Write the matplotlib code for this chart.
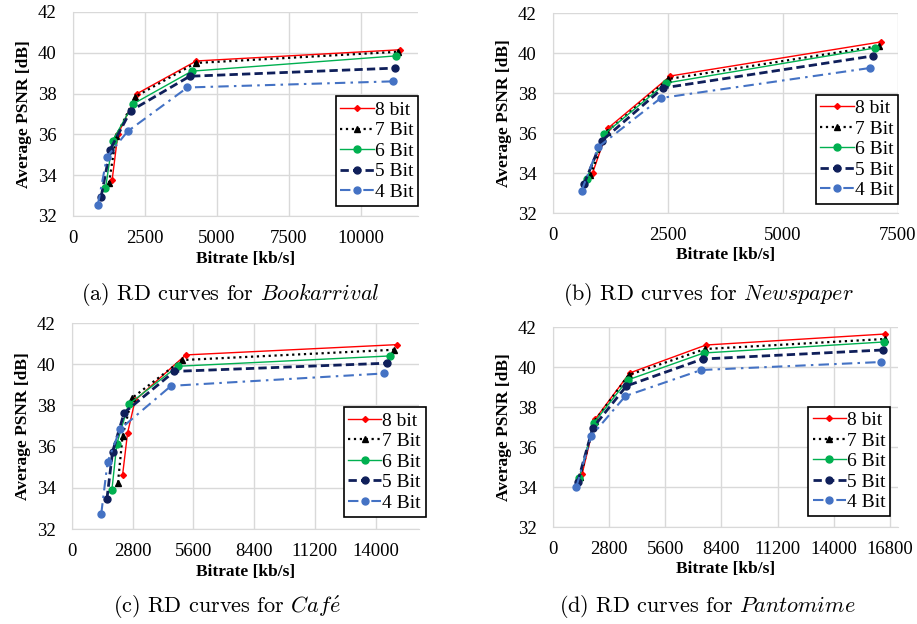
import matplotlib
matplotlib.use("Agg")
import matplotlib.pyplot as plt

plt.rcParams['font.family'] = ['Liberation Serif', 'DejaVu Serif']
plt.rcParams['mathtext.fontset'] = 'cm'

series_names = ["8 bit", "7 Bit", "6 Bit", "5 Bit", "4 Bit"]

# (a) Bookarrival
book_rate_8 = [1360, 1560, 2230, 4290, 11390]
book_psnr_8 = [33.75, 36.0, 38.0, 39.6, 40.15]
book_rate_7 = [1250, 1500, 2170, 4270, 11310]
book_psnr_7 = [33.6, 35.9, 37.85, 39.5, 40.05]
book_rate_6 = [1130, 1380, 2100, 4130, 11250]
book_psnr_6 = [33.35, 35.7, 37.5, 39.1, 39.85]
book_rate_5 = [980, 1290, 2000, 4060, 11210]
book_psnr_5 = [32.95, 35.25, 37.15, 38.85, 39.25]
book_rate_4 = [865, 1180, 1900, 3980, 11130]
book_psnr_4 = [32.55, 34.9, 36.15, 38.3, 38.6]

# (b) Newspaper
news_rate_8 = [860, 1200, 2550, 7120]
news_psnr_8 = [34.0, 36.25, 38.85, 40.55]
news_rate_7 = [815, 1165, 2510, 7080]
news_psnr_7 = [33.9, 36.05, 38.7, 40.35]
news_rate_6 = [730, 1115, 2460, 7000]
news_psnr_6 = [33.7, 35.95, 38.5, 40.25]
news_rate_5 = [675, 1055, 2390, 6950]
news_psnr_5 = [33.45, 35.6, 38.25, 39.85]
news_rate_4 = [620, 985, 2345, 6890]
news_psnr_4 = [33.1, 35.3, 37.75, 39.25]

# (c) Cafe
cafe_rate_8 = [2330, 2560, 2910, 5240, 15000]
cafe_psnr_8 = [34.6, 36.65, 38.25, 40.45, 40.95]
cafe_rate_7 = [2120, 2330, 2760, 5060, 14840]
cafe_psnr_7 = [34.25, 36.5, 38.35, 40.2, 40.7]
cafe_rate_6 = [1840, 2070, 2610, 4880, 14640]
cafe_psnr_6 = [33.9, 36.15, 38.05, 39.9, 40.4]
cafe_rate_5 = [1610, 1870, 2410, 4720, 14540]
cafe_psnr_5 = [33.45, 35.75, 37.65, 39.65, 40.05]
cafe_rate_4 = [1350, 1640, 2220, 4570, 14380]
cafe_psnr_4 = [32.75, 35.25, 36.85, 38.95, 39.55]

# (d) Pantomime
panto_rate_8 = [1450, 2110, 3820, 7630, 16570]
panto_psnr_8 = [34.65, 37.4, 39.7, 41.1, 41.65]
panto_rate_7 = [1360, 2080, 3770, 7590, 16530]
panto_psnr_7 = [34.5, 37.3, 39.6, 40.9, 41.4]
panto_rate_6 = [1310, 2030, 3720, 7510, 16480]
panto_psnr_6 = [34.45, 37.2, 39.35, 40.7, 41.25]
panto_rate_5 = [1230, 1980, 3660, 7460, 16430]
panto_psnr_5 = [34.25, 36.95, 39.05, 40.4, 40.85]
panto_rate_4 = [1160, 1910, 3610, 7390, 16370]
panto_psnr_4 = [34.0, 36.55, 38.55, 39.85, 40.25]

y_ticks = [32, 34, 36, 38, 40, 42]


def draw_panel(ax, rates, psnrs, xticks, xmax, legend_box):
    ax.plot(rates[0], psnrs[0], color='#FF0000', lw=1.0, marker='D', ms=3, label=series_names[0])
    ax.plot(rates[1], psnrs[1], color='black', lw=1.6, ls=':', marker='^', ms=4, label=series_names[1])
    ax.plot(rates[2], psnrs[2], color='#00B050', lw=1.0, marker='o', ms=5, label=series_names[2])
    ax.plot(rates[3], psnrs[3], color='#0F1F5A', lw=2.0, ls=(0, (3, 1.5)), marker='o', ms=5, label=series_names[3])
    ax.plot(rates[4], psnrs[4], color='#4472C4', lw=1.5, ls=(0, (5, 2.5, 1.2, 2.5)), marker='o', ms=5, label=series_names[4])
    ax.set_xlim(0, xmax)
    ax.set_ylim(32, 42)
    ax.set_xticks(xticks)
    ax.set_yticks(y_ticks)
    ax.grid(True, color='#D9D9D9', lw=1)
    ax.set_axisbelow(True)
    ax.tick_params(length=0, labelsize=13.5)
    ax.tick_params(axis='y', pad=12)
    ax.tick_params(axis='x', pad=10)
    for s in ['top', 'right']:
        ax.spines[s].set_visible(False)
    for s in ['left', 'bottom']:
        ax.spines[s].set_color('#D9D9D9')
    ax.set_xlabel("Bitrate [kb/s]", fontsize=12.5, fontweight='bold', labelpad=0)
    ax.set_ylabel("Average PSNR [dB]", fontsize=12.5, fontweight='bold')
    ax.yaxis.set_label_coords(-0.118, 0.5)
    ax.xaxis.set_label_coords(0.5, -0.17)
    leg = ax.legend(loc='lower right', bbox_to_anchor=legend_box, fontsize=14,
                    frameon=True, fancybox=False, framealpha=1, edgecolor='black',
                    handlelength=1.7, handletextpad=0.05, labelspacing=0.15,
                    borderpad=0.25, borderaxespad=0)
    leg.get_frame().set_linewidth(1.2)


W, H = 917, 624
fig = plt.figure(figsize=(W / 100, H / 100), dpi=100)


def px_axes(left, top, right, bottom):
    return fig.add_axes([left / W, 1 - bottom / H, (right - left) / W, (bottom - top) / H])


ax_a = px_axes(73, 12, 418, 216)
draw_panel(ax_a,
           [book_rate_8, book_rate_7, book_rate_6, book_rate_5, book_rate_4],
           [book_psnr_8, book_psnr_7, book_psnr_6, book_psnr_5, book_psnr_4],
           [0, 2500, 5000, 7500, 10000], 12000, (1.0, 0.05))

ax_b = px_axes(553, 13, 898, 213)
draw_panel(ax_b,
           [news_rate_8, news_rate_7, news_rate_6, news_rate_5, news_rate_4],
           [news_psnr_8, news_psnr_7, news_psnr_6, news_psnr_5, news_psnr_4],
           [0, 2500, 5000, 7500], 7500, (1.0, 0.045))

ax_c = px_axes(72, 323, 419, 529)
draw_panel(ax_c,
           [cafe_rate_8, cafe_rate_7, cafe_rate_6, cafe_rate_5, cafe_rate_4],
           [cafe_psnr_8, cafe_psnr_7, cafe_psnr_6, cafe_psnr_5, cafe_psnr_4],
           [0, 2800, 5600, 8400, 11200, 14000], 16000, (1.02, 0.06))

ax_d = px_axes(553, 327, 898, 527)
draw_panel(ax_d,
           [panto_rate_8, panto_rate_7, panto_rate_6, panto_rate_5, panto_rate_4],
           [panto_psnr_8, panto_psnr_7, panto_psnr_6, panto_psnr_5, panto_psnr_4],
           [0, 2800, 5600, 8400, 11200, 14000, 16800], 17200, (0.977, 0.055))

cap_style = dict(ha='center', va='center', fontsize=16, family='cmr10')
fig.text(230 / W, 1 - 295 / H, r"(a) RD curves for $\mathit{Bookarrival}$", **cap_style)
fig.text(708 / W, 1 - 295 / H, r"(b) RD curves for $\mathit{Newspaper}$", **cap_style)
fig.text(227 / W, 1 - 607 / H, r"(c) RD curves for $\mathit{Caf\acute{e}}$", **cap_style)
fig.text(707 / W, 1 - 607 / H, r"(d) RD curves for $\mathit{Pantomime}$", **cap_style)

fig.savefig("out.png", dpi=100)
